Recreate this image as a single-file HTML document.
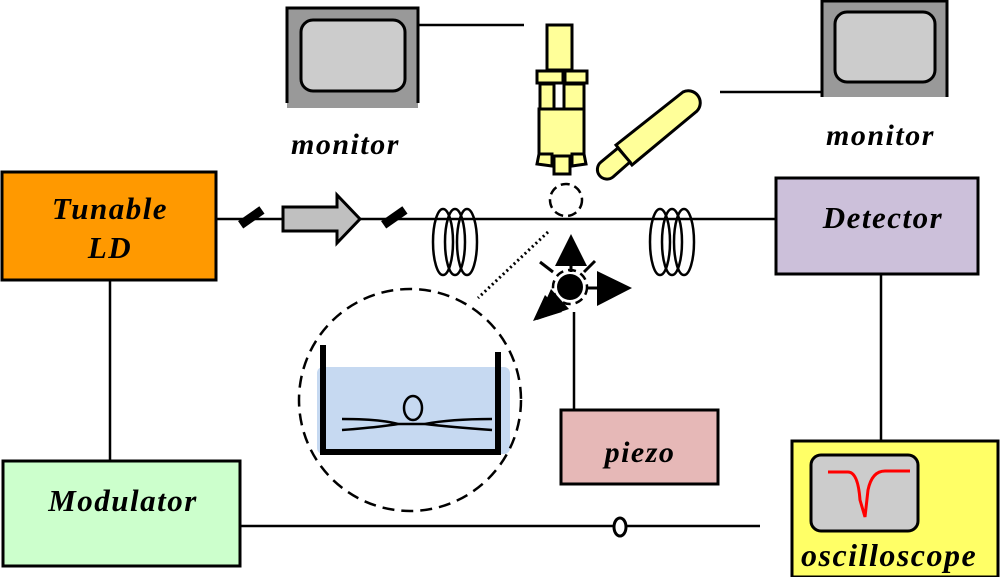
<!DOCTYPE html>
<html><head><meta charset="utf-8"><style>
body{margin:0;background:#fff;width:1000px;height:577px;overflow:hidden}
svg text{font-family:"Liberation Serif",serif;font-weight:bold;font-style:italic;fill:#000;letter-spacing:1.5px}
</style></head><body>
<svg width="1000" height="577" viewBox="0 0 1000 577" xmlns="http://www.w3.org/2000/svg">
<!-- monitors -->
<rect x="287" y="8" width="131" height="100" fill="#999"/>
<path d="M287,103 V8 H418 V103" fill="none" stroke="#000" stroke-width="3"/>
<rect x="301" y="20" width="104" height="71" rx="12" fill="#ccc" stroke="#000" stroke-width="3"/>
<line x1="418" y1="25" x2="524" y2="25" stroke="#000" stroke-width="2.5"/>
<rect x="822" y="0" width="125" height="97" fill="#999"/>
<path d="M822,97 V1 H947 V97" fill="none" stroke="#000" stroke-width="3"/>
<rect x="835" y="12" width="100" height="70" rx="12" fill="#ccc" stroke="#000" stroke-width="3"/>
<line x1="720" y1="92" x2="822" y2="92" stroke="#000" stroke-width="2.5"/>
<text x="291" y="154" font-size="30">monitor</text>
<text x="826" y="145" font-size="30">monitor</text>
<!-- microscope -->
<g fill="#ffff99" stroke="#000" stroke-width="3">
<rect x="547" y="25" width="25" height="45"/>
<rect x="537" y="71" width="26" height="12"/>
<rect x="565" y="71" width="22" height="12"/>
<rect x="540" y="84" width="14" height="25"/>
<rect x="564" y="84" width="20" height="25"/>
<rect x="539" y="109" width="45" height="47"/>
<path d="M539,154 L537,164 L552,166 L552,154 Z"/>
<path d="M584,154 L586,164 L572,166 L572,154 Z"/>
<rect x="554" y="156" width="16" height="18"/>
<path d="M616,145 L683,92 A12,12 0 0 1 697,111 L632,165 Z"/>
<path d="M601,162 L618,148 L630,162 L613,177 A8,8 0 0 1 601,162 Z"/>
</g>
<circle cx="566" cy="200" r="16" fill="none" stroke="#000" stroke-width="2.5" stroke-dasharray="9,5"/>
<!-- main fiber -->
<line x1="216" y1="219" x2="776" y2="219" stroke="#000" stroke-width="2.5"/>
<rect x="238" y="213" width="26" height="9" fill="#000" transform="rotate(-35 251 217)"/>
<rect x="381" y="213" width="26" height="9" fill="#000" transform="rotate(-35 394 217)"/>
<path d="M283,207 H337 V195 L360,219 L337,243 V231 H283 Z" fill="#c0c0c0" stroke="#000" stroke-width="3"/>
<g fill="none" stroke="#000" stroke-width="2.5">
<ellipse cx="443" cy="242" rx="10" ry="33"/><ellipse cx="455" cy="242" rx="10" ry="33"/><ellipse cx="467" cy="242" rx="10" ry="33"/>
<ellipse cx="660" cy="242" rx="10" ry="33"/><ellipse cx="672" cy="242" rx="10" ry="33"/><ellipse cx="684" cy="242" rx="10" ry="33"/>
</g>
<!-- boxes -->
<rect x="2" y="172" width="214" height="108" fill="#ff9900" stroke="#000" stroke-width="3"/>
<text x="110" y="219" font-size="31" text-anchor="middle">Tunable</text>
<text x="110" y="258" font-size="31" text-anchor="middle">LD</text>
<rect x="776" y="178" width="202" height="96" fill="#ccc0da" stroke="#000" stroke-width="3"/>
<text x="883" y="228" font-size="31" text-anchor="middle">Detector</text>
<rect x="3" y="461" width="237" height="105" fill="#ccffcc" stroke="#000" stroke-width="3"/>
<text x="123" y="511" font-size="31" text-anchor="middle">Modulator</text>
<line x1="110" y1="280" x2="110" y2="461" stroke="#000" stroke-width="2.5"/>
<line x1="240" y1="526" x2="760" y2="526" stroke="#000" stroke-width="2.5"/>
<ellipse cx="620" cy="527" rx="6" ry="9" fill="#fff" stroke="#000" stroke-width="3"/>
<line x1="881" y1="274" x2="881" y2="440" stroke="#000" stroke-width="2.5"/>
<rect x="792" y="441" width="206" height="136" fill="#ffff66" stroke="#000" stroke-width="3"/>
<rect x="811" y="455" width="107" height="76" rx="10" fill="#ccc" stroke="#000" stroke-width="3"/>
<path d="M828,472 H848 Q858,472 860,500 L865,517 L868,490 Q872,471 885,471 H910" fill="none" stroke="#f00" stroke-width="3"/>
<text x="801" y="566" font-size="32">oscilloscope</text>
<!-- piezo -->
<line x1="574" y1="312" x2="574" y2="410" stroke="#000" stroke-width="2.5"/>
<rect x="561" y="410" width="157" height="74" fill="#e6b8b7" stroke="#000" stroke-width="3"/>
<text x="640" y="462" font-size="30" text-anchor="middle">piezo</text>
<!-- arrows near ball -->
<circle cx="570" cy="287" r="13" fill="#000"/>
<circle cx="570" cy="287" r="17" fill="none" stroke="#000" stroke-width="2.5" stroke-dasharray="8,5"/>
<path d="M571,234 L555,266 L587,266 Z" fill="#000"/>
<line x1="571" y1="266" x2="571" y2="272" stroke="#000" stroke-width="3"/>
<path d="M597,271 L632,288 L597,306 Z" fill="#000"/>
<line x1="588" y1="288" x2="597" y2="288" stroke="#000" stroke-width="3"/>
<path d="M551,289 L537,320 L569,309 Z" fill="#000"/>
<path d="M545,295 L533,321 L562,312 Z" fill="#000"/>
<line x1="540" y1="262" x2="553" y2="272" stroke="#000" stroke-width="3"/>
<line x1="595" y1="261" x2="584" y2="272" stroke="#000" stroke-width="3"/>
<line x1="548" y1="232" x2="478" y2="298" stroke="#000" stroke-width="3" stroke-dasharray="2,3"/>
<!-- inset -->
<rect x="317" y="367" width="193" height="87" rx="6" fill="#c6d9f1"/>
<circle cx="410" cy="400" r="111" fill="none" stroke="#000" stroke-width="2.5" stroke-dasharray="12,7"/>
<path d="M323,345 V452 H498 V352" fill="none" stroke="#000" stroke-width="6"/>
<path d="M342,419 Q380,419 398,424 Q380,427 342,430 M492,419 Q450,419 425,424 Q450,427 492,430" fill="none" stroke="#000" stroke-width="2.5"/>
<line x1="398" y1="424" x2="425" y2="424" stroke="#000" stroke-width="2.5"/>
<ellipse cx="413" cy="408" rx="9" ry="12" fill="none" stroke="#000" stroke-width="2.5"/>
</svg>
</body></html>
